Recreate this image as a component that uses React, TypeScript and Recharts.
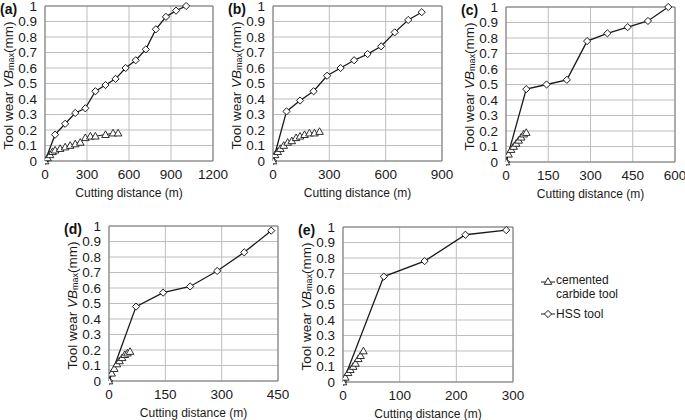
import React from 'react';
import { ScatterChart, Scatter, XAxis, YAxis, CartesianGrid, ReferenceLine } from 'recharts';

// ---------- data ----------
const yTicks = [0, 0.1, 0.2, 0.3, 0.4, 0.5, 0.6, 0.7, 0.8, 0.9, 1];

const aTicks = [0, 300, 600, 900, 1200];
const aHssX = [0, 72, 144, 216, 288, 360, 432, 504, 576, 648, 720, 792, 864, 936, 1008];
const aHssY = [0, 0.17, 0.24, 0.31, 0.34, 0.45, 0.49, 0.53, 0.6, 0.65, 0.72, 0.85, 0.93, 0.97, 1.0];
const aCarbX = [0, 18, 36, 54, 72, 108, 144, 180, 216, 252, 288, 324, 360, 432, 486, 522];
const aCarbY = [0, 0.02, 0.04, 0.06, 0.07, 0.08, 0.09, 0.1, 0.11, 0.12, 0.15, 0.16, 0.16, 0.17, 0.18, 0.18];

const bTicks = [0, 300, 600, 900];
const bHssX = [0, 72, 144, 216, 288, 360, 432, 504, 576, 648, 720, 792];
const bHssY = [0, 0.32, 0.39, 0.45, 0.55, 0.6, 0.65, 0.69, 0.74, 0.83, 0.91, 0.96];
const bCarbX = [0, 11, 25, 39, 57, 78, 100, 123, 144, 168, 194, 221, 248];
const bCarbY = [0, 0.04, 0.06, 0.08, 0.1, 0.12, 0.13, 0.15, 0.16, 0.17, 0.18, 0.18, 0.19];

const cTicks = [0, 150, 300, 450, 600];
const cHssX = [0, 72, 144, 216, 288, 360, 432, 504, 576];
const cHssY = [0, 0.47, 0.5, 0.53, 0.78, 0.83, 0.87, 0.91, 1.0];
const cCarbX = [0, 9, 18, 27, 36, 45, 54, 63, 72];
const cCarbY = [0, 0.05, 0.08, 0.1, 0.12, 0.14, 0.16, 0.18, 0.19];

const dTicks = [0, 150, 300, 450];
const dHssX = [0, 72, 144, 216, 288, 360, 432];
const dHssY = [0, 0.48, 0.57, 0.61, 0.71, 0.83, 0.97];
const dCarbX = [0, 7, 14, 21, 28, 35, 42, 49, 56];
const dCarbY = [0, 0.05, 0.08, 0.11, 0.13, 0.15, 0.17, 0.18, 0.19];

const eTicks = [0, 100, 200, 300];
const eHssX = [0, 72, 144, 216, 288];
const eHssY = [0, 0.68, 0.78, 0.95, 0.98];
const eCarbX = [0, 4, 9, 13, 18, 22, 27, 31, 36];
const eCarbY = [0, 0.03, 0.06, 0.08, 0.1, 0.12, 0.15, 0.17, 0.2];

const seriesNames = ['cemented carbide tool', 'HSS tool'];
const xLabel = 'Cutting distance (m)';

const zip = (xs: number[], ys: number[]) => xs.map((x, i) => ({ x, y: ys[i] }));

// ---------- style ----------
const FONT = '"Liberation Sans", Arial, sans-serif';
const Y_AXIS_W = 45;
const M_TOP = 8;
const M_RIGHT = 16;
const X_AXIS_H = 40;

const Diamond = (p: any) => {
  const { cx, cy } = p;
  if (cx == null || cy == null) return null;
  const r = 3.6;
  return (
    <polygon
      points={`${cx},${cy - r} ${cx + r},${cy} ${cx},${cy + r} ${cx - r},${cy}`}
      fill="#fff"
      stroke="#1a1a1a"
      strokeWidth={1}
    />
  );
};

const Triangle = (p: any) => {
  const { cx, cy } = p;
  if (cx == null || cy == null) return null;
  const r = 3.8;
  return (
    <polygon
      points={`${cx},${cy - r} ${cx + r},${cy + r * 0.75} ${cx - r},${cy + r * 0.75}`}
      fill="#fff"
      stroke="#1a1a1a"
      strokeWidth={0.9}
    />
  );
};

type PanelProps = {
  tag: string;
  L: number;
  T: number;
  R: number;
  B: number;
  ticks: number[];
  hss: { x: number; y: number }[];
  carb: { x: number; y: number }[];
};

const Panel = ({ tag, L, T, R, B, ticks, hss, carb }: PanelProps) => {
  const pw = R - L;
  const ph = B - T;
  const width = pw + Y_AXIS_W + M_RIGHT;
  const height = ph + M_TOP + X_AXIS_H;
  const xMax = ticks[ticks.length - 1];
  return (
    <div style={{ position: 'absolute', left: L - Y_AXIS_W, top: T - M_TOP, width, height }}>
      <div
        style={{
          position: 'absolute',
          left: 0,
          top: M_TOP - 4,
          fontFamily: FONT,
          fontWeight: 'bold',
          fontSize: 14,
          color: '#111',
          lineHeight: '14px',
        }}
      >
        {tag}
      </div>
      <ScatterChart
        width={width}
        height={height}
        margin={{ top: M_TOP, right: M_RIGHT, left: 0, bottom: 0 }}
        style={{ fontFamily: FONT }}
      >
        <CartesianGrid stroke="#bdbdbd" strokeWidth={1} horizontalValues={yTicks} verticalValues={ticks} />
        <XAxis
          type="number"
          dataKey="x"
          domain={[0, xMax]}
          ticks={ticks}
          interval={0}
          height={X_AXIS_H}
          tickLine={false}
          axisLine={{ stroke: '#7a7a7a', strokeWidth: 1 }}
          tick={{ fill: '#1a1a1a', fontSize: 13.5, fontFamily: FONT }}
          allowDataOverflow
          label={{
            content: () => (
              <text
                x={Y_AXIS_W + pw / 2}
                y={M_TOP + ph + 36}
                textAnchor="middle"
                fontSize={12}
                fontFamily={FONT}
                fill="#1a1a1a"
              >
                {xLabel}
              </text>
            ),
          }}
        />
        <YAxis
          type="number"
          dataKey="y"
          domain={[0, 1]}
          ticks={yTicks}
          interval={0}
          width={Y_AXIS_W}
          tickLine={false}
          axisLine={{ stroke: '#7a7a7a', strokeWidth: 1 }}
          tick={{ fill: '#1a1a1a', fontSize: 13.5, fontFamily: FONT }}
          tickFormatter={(v: number) => String(Math.round(v * 10) / 10)}
          label={{
            content: () => {
              const cx = 8;
              const cy = M_TOP + ph / 2 + 2;
              return (
                <text
                  x={cx}
                  y={cy}
                  transform={`rotate(-90 ${cx} ${cy})`}
                  textAnchor="middle"
                  dominantBaseline="central"
                  fontSize={13.5}
                  fontFamily={FONT}
                  fill="#1a1a1a"
                >
                  <tspan>Tool wear </tspan>
                  <tspan fontStyle="italic">VB</tspan>
                  <tspan fontSize={9} dy={3}>max</tspan>
                  <tspan dy={-3}>(mm)</tspan>
                </text>
              );
            },
          }}
        />
        <ReferenceLine y={1} stroke="#7a7a7a" strokeWidth={1} ifOverflow="visible" />
        <ReferenceLine x={xMax} stroke="#7a7a7a" strokeWidth={1} ifOverflow="visible" />
        <Scatter
          name={seriesNames[1]}
          data={hss}
          line={{ stroke: '#1a1a1a', strokeWidth: 1.3 }}
          shape={Diamond}
          isAnimationActive={false}
        />
        <Scatter
          name={seriesNames[0]}
          data={carb}
          line={{ stroke: '#1a1a1a', strokeWidth: 1 }}
          shape={Triangle}
          isAnimationActive={false}
        />
      </ScatterChart>
    </div>
  );
};

const LegendBox = () => (
  <div style={{ position: 'absolute', left: 540, top: 273, fontFamily: FONT, fontSize: 12, color: '#1a1a1a' }}>
    <div style={{ display: 'flex', alignItems: 'flex-start' }}>
      <svg width={16} height={14} style={{ marginTop: 1 }}>
        <line x1={1} y1={8} x2={15} y2={8} stroke="#1a1a1a" strokeWidth={1} />
        <Triangle cx={8} cy={7.5} />
      </svg>
      <div style={{ lineHeight: '14px' }}>
        cemented
        <br />
        carbide tool
      </div>
    </div>
    <div style={{ display: 'flex', alignItems: 'flex-start', marginTop: 6 }}>
      <svg width={16} height={14} style={{ marginTop: 0 }}>
        <line x1={1} y1={7} x2={15} y2={7} stroke="#1a1a1a" strokeWidth={1} />
        <Diamond cx={8} cy={7} />
      </svg>
      <div style={{ lineHeight: '14px' }}>{seriesNames[1]}</div>
    </div>
  </div>
);

export default function App() {
  return (
    <div style={{ position: 'absolute', left: 0, top: 0, width: 685, height: 420, background: '#fff', overflow: 'hidden' }}>
      <Panel tag="(a)" L={45} T={6} R={213} B={161} ticks={aTicks} hss={zip(aHssX, aHssY)} carb={zip(aCarbX, aCarbY)} />
      <Panel tag="(b)" L={273} T={6} R={442} B={161} ticks={bTicks} hss={zip(bHssX, bHssY)} carb={zip(bCarbX, bCarbY)} />
      <Panel tag="(c)" L={506} T={7} R={675} B={162} ticks={cTicks} hss={zip(cHssX, cHssY)} carb={zip(cCarbX, cCarbY)} />
      <Panel tag="(d)" L={109} T={226} R={278} B={381} ticks={dTicks} hss={zip(dHssX, dHssY)} carb={zip(dCarbX, dCarbY)} />
      <Panel tag="(e)" L={343} T={227} R={513} B={382} ticks={eTicks} hss={zip(eHssX, eHssY)} carb={zip(eCarbX, eCarbY)} />
      <LegendBox />
    </div>
  );
}
